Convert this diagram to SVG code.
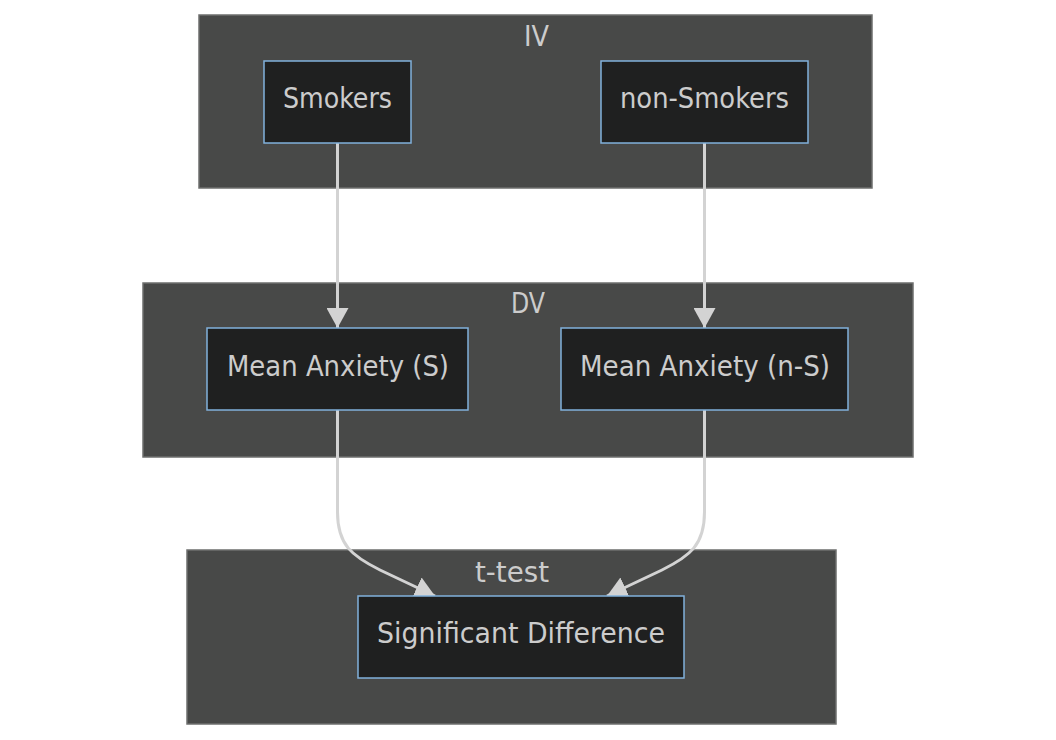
<svg xmlns="http://www.w3.org/2000/svg" width="1056" height="740" viewBox="0 0 1056 740">
<defs>
<style>
.cluster{fill:#484948;stroke:#6e6f6e;stroke-width:1.5}
.node{fill:#1f2020;stroke:#81b1db;stroke-width:1.5}
.lbl{font-family:"DejaVu Sans Condensed","DejaVu Sans",Verdana,sans-serif;font-stretch:condensed;font-size:28px;fill:#cccccc;text-anchor:middle;dominant-baseline:central}
.edge{fill:none;stroke:#d3d3d3;stroke-width:3}
</style>
<marker id="arr" viewBox="0 0 20 22" refX="20" refY="11" markerWidth="20" markerHeight="22" markerUnits="userSpaceOnUse" orient="auto">
<path d="M0,0 L20,11 L0,22 Z" fill="#d3d3d3"/>
</marker>
</defs>
<rect width="1056" height="740" fill="#ffffff"/>
<g id="cluster-IV"><rect class="cluster" x="199" y="15" width="673" height="173"/><text class="lbl" x="536.5" y="36" textLength="25" lengthAdjust="spacingAndGlyphs">IV</text></g>
<g id="cluster-DV"><rect class="cluster" x="143" y="283" width="770" height="174"/><text class="lbl" x="528" y="303" textLength="34" lengthAdjust="spacingAndGlyphs">DV</text></g>
<g id="cluster-ttest"><rect class="cluster" x="187" y="550" width="649" height="174"/><text class="lbl" x="512" y="572" textLength="74" lengthAdjust="spacingAndGlyphs">t-test</text></g>
<g id="connectors">
<path class="edge" d="M337.5,143 L337.5,328" marker-end="url(#arr)"/>
<path class="edge" d="M704.5,143 L704.5,328" marker-end="url(#arr)"/>
<path class="edge" d="M337.5,410 L337.5,512 C337.5,545 352,556 380,570 L435,596" marker-end="url(#arr)"/>
<path class="edge" d="M704.5,410 L704.5,512 C704.5,545 690,556 662,570 L607,596" marker-end="url(#arr)"/>
</g>
<g id="node-smokers"><rect class="node" x="264" y="61" width="147" height="82"/><text class="lbl" x="337.5" y="98" textLength="109" lengthAdjust="spacingAndGlyphs">Smokers</text></g>
<g id="node-nonsmokers"><rect class="node" x="601" y="61" width="207" height="82"/><text class="lbl" x="704.5" y="98" textLength="169" lengthAdjust="spacingAndGlyphs">non-Smokers</text></g>
<g id="node-meanS"><rect class="node" x="207" y="328" width="261" height="82"/><text class="lbl" x="338" y="366" textLength="222" lengthAdjust="spacingAndGlyphs">Mean Anxiety (S)</text></g>
<g id="node-meannS"><rect class="node" x="561" y="328" width="287" height="82"/><text class="lbl" x="705" y="366" textLength="250" lengthAdjust="spacingAndGlyphs">Mean Anxiety (n-S)</text></g>
<g id="node-sig"><rect class="node" x="358" y="596" width="326" height="82"/><text class="lbl" x="521" y="633" textLength="288" lengthAdjust="spacingAndGlyphs">Significant Difference</text></g>
</svg>
